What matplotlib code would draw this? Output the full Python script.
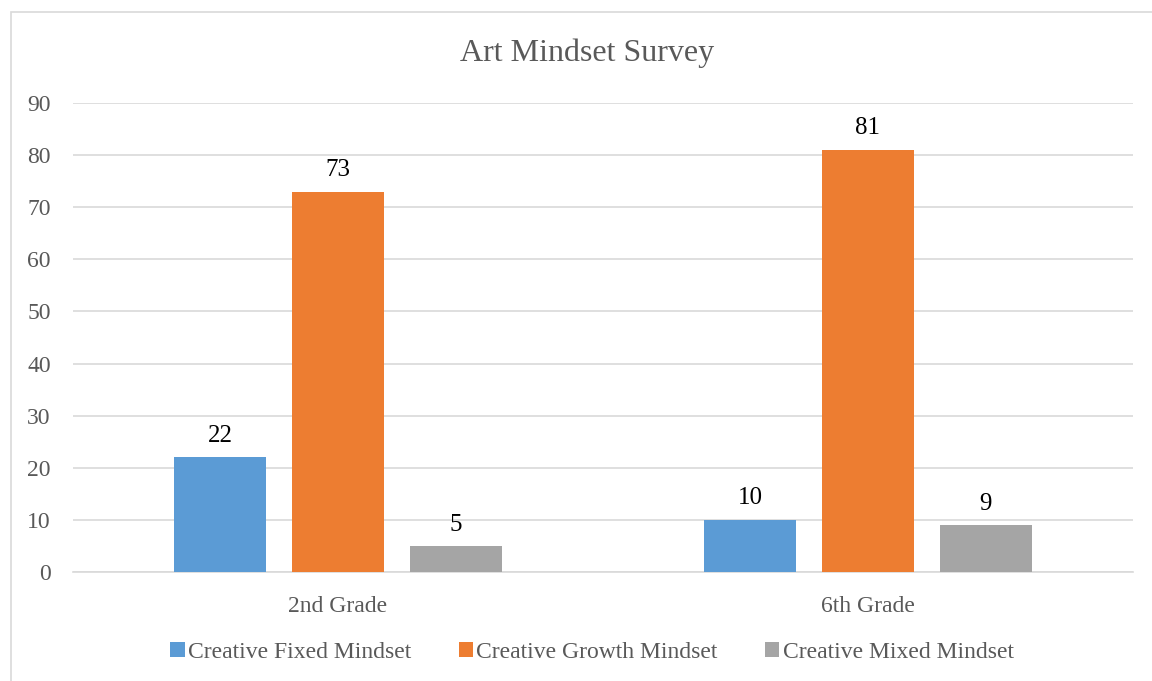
import numpy as np
import matplotlib
matplotlib.use("Agg")
import matplotlib.pyplot as plt
from matplotlib.patches import Rectangle

TITLE = "Art Mindset Survey"
GRADES = ["2nd Grade", "6th Grade"]
SERIES = ["Creative Fixed Mindset", "Creative Growth Mindset", "Creative Mixed Mindset"]
FIXED = [22, 10]
GROWTH = [73, 81]
MIXED = [5, 9]
COLORS = ["#5b9bd5", "#ed7d31", "#a5a5a5"]
Y_TICKS = [0, 10, 20, 30, 40, 50, 60, 70, 80, 90]

plt.rcParams["font.family"] = ["Liberation Serif", "DejaVu Serif"]

W, H = 1152, 681
fig = plt.figure(figsize=(W / 100, H / 100), dpi=100)
ax = fig.add_axes([73 / W, 1 - 572 / H, (1133 - 73) / W, (572 - 103) / H])

# outer chart frame, running off the right and bottom edges
fig.patches.append(Rectangle((11 / W, -0.1), 1.2, 1 - 12 / H + 0.1,
                             transform=fig.transFigure, fill=False,
                             edgecolor="#d9d9d9", linewidth=1.2))

x = np.arange(len(GRADES))
width = 0.174
step = 0.222
for i, (vals, name, col) in enumerate(zip([FIXED, GROWTH, MIXED], SERIES, COLORS)):
    bars = ax.bar(x + (i - 1) * step, vals, width, color=col, label=name, zorder=3)
    for b, v in zip(bars, vals):
        ax.text(b.get_x() + b.get_width() / 2, v + 2.0, str(v), ha="center",
                va="bottom", fontsize=18, color="black")

ax.set_xlim(-0.5, 1.5)
ax.set_ylim(0, 90)
ax.set_yticks(Y_TICKS)
ax.set_xticks(x)
ax.set_xticklabels(GRADES)
ax.yaxis.grid(True, color="#d9d9d9", linewidth=1.2, zorder=0)
for s in ["top", "right", "left"]:
    ax.spines[s].set_visible(False)
ax.spines["bottom"].set_color("#d9d9d9")
ax.spines["bottom"].set_linewidth(1.2)
ax.tick_params(axis="both", length=0, labelsize=17, labelcolor="#595959")
ax.tick_params(axis="y", pad=16)
ax.tick_params(axis="x", pad=17)

fig.text(587 / W, 1 - 53 / H, TITLE, ha="center", va="center",
         fontsize=23, color="#595959")

fig.legend(loc="center", bbox_to_anchor=(592 / W, 1 - 652 / H), ncol=3,
           frameon=False, fontsize=17, labelcolor="#595959",
           handlelength=0.6, handleheight=0.6, handletextpad=0.15,
           columnspacing=2.0)

fig.savefig("out.png", dpi=100)
